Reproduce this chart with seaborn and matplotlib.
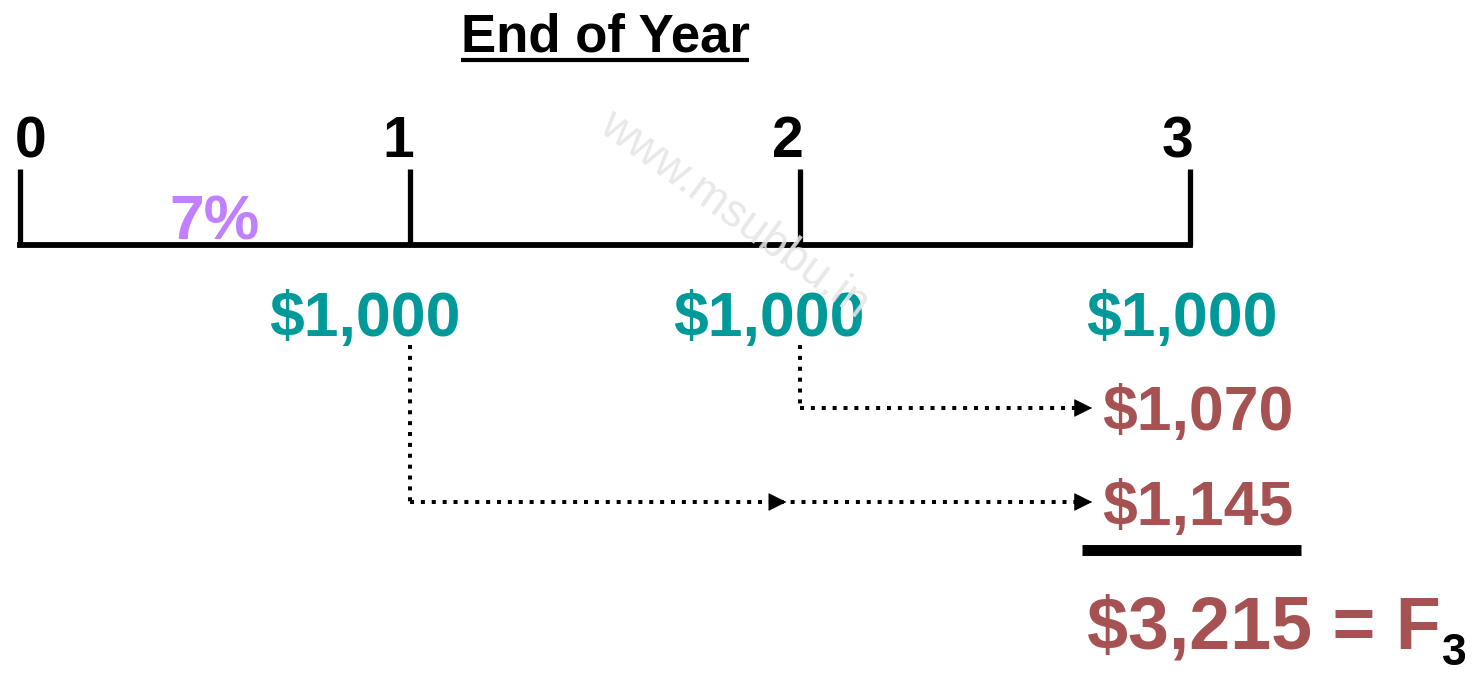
import matplotlib
matplotlib.use("Agg")
import matplotlib.pyplot as plt
import seaborn as sns
import pandas as pd

# ---------------- data ----------------
years = [0, 1, 2, 3]
year_labels = ["0", "1", "2", "3"]
rate_label = "7%"
cash_flow_years = [1, 2, 3]
cash_flow_labels = ["$1,000", "$1,000", "$1,000"]
fv_from_years = [2, 1]
fv_labels = ["$1,070", "$1,145"]
total_label = "$3,215 = F"
total_sub = "3"
title_text = "End of Year"
watermark = "www.msubbu.in"

# ---------------- layout / style ----------------
TEAL = "#009999"
BROWN = "#A65252"
PURPLE = "#C080FF"
year_label_dx = [0.026, -0.03, -0.03, -0.033]
cash_label_dx = [-0.115, -0.08, -0.02]

sns.set_theme(style="white")
plt.rcParams["font.family"] = ["Liberation Sans", "DejaVu Sans"]

fig = plt.figure(figsize=(14.73, 6.75), dpi=100)
ax = fig.add_axes([0, 0, 1, 1])
ax.set_xlim(-20 / 390, 1453 / 390)
ax.set_ylim(675, 0)
ax.axis("off")

# timeline
line_y, tick_top = 245, 169
tl = pd.DataFrame({"year": [years[0], years[-1]], "y": [line_y, line_y]})
sns.lineplot(data=tl, x="year", y="y", color="black", lw=4.2, ax=ax,
             solid_capstyle="projecting")
ax.vlines(years, tick_top, line_y, color="black", lw=3.8)

# year labels
for yr, lab, dx in zip(years, year_labels, year_label_dx):
    ax.text(yr + dx, 157, lab, ha="center", va="baseline", fontsize=41,
            weight="bold", color="black")

# title
title = ax.text((years[0] + years[-1]) / 2, 52, title_text, ha="center",
                va="baseline", fontsize=38, weight="bold", color="black")

# interest rate
ax.text((years[0] + years[1]) / 2, 240, rate_label, ha="center", va="baseline",
        fontsize=45, weight="bold", color=PURPLE)

# cash flows
for yr, lab, dx in zip(cash_flow_years, cash_flow_labels, cash_label_dx):
    ax.text(yr + dx, 336, lab, ha="center", va="baseline", fontsize=45,
            weight="bold", color=TEAL, parse_math=False)

# dotted compounding paths
dot_kw = dict(color="black", lw=2.9, linestyle=(0, (1, 1.7)))
tip_x = years[-1] - 0.251
head = 0.04
fv_rows = [408, 502]
for yr, row in zip(fv_from_years, fv_rows):
    ax.plot([yr, yr], [345, row], **dot_kw)
    ax.plot([yr, tip_x - head], [row, row], **dot_kw)
    ax.annotate("", xy=(tip_x, row), xytext=(tip_x - head, row),
                arrowprops=dict(arrowstyle="-|>", color="black", lw=0.5,
                                mutation_scale=30, shrinkA=0, shrinkB=0))
# mid-way arrow on the two-year path
mid_tip = years[2] - 0.035
ax.annotate("", xy=(mid_tip, fv_rows[1]), xytext=(mid_tip - head, fv_rows[1]),
            arrowprops=dict(arrowstyle="-|>", color="black", lw=0.5,
                            mutation_scale=30, shrinkA=0, shrinkB=0))

# future values
fv_base = [430, 525]
for lab, base in zip(fv_labels, fv_base):
    ax.text(years[-1] - 0.226, base, lab, ha="left", va="baseline",
            fontsize=45, weight="bold", color=BROWN, parse_math=False)

# sum bar
ax.plot([years[-1] - 0.277, years[-1] + 0.285], [550, 550], color="black",
        lw=7.9, solid_capstyle="butt")

# total
tot = ax.text(years[-1] - 0.264, 648, total_label, ha="left", va="baseline",
              fontsize=53, weight="bold", color=BROWN, parse_math=False)

# watermark
ax.text(1.83, 215, watermark, ha="center", va="center", rotation=-36,
        rotation_mode="anchor", fontsize=33, color="#E6E6E6", alpha=0.9,
        zorder=10)

fig.canvas.draw()
inv = ax.transData.inverted()

# subscript after the total
tb = tot.get_window_extent()
sx, _ = inv.transform((tb.x1, tb.y0))
ax.text(sx + 0.003, 665, total_sub, ha="left", va="baseline", fontsize=32,
        weight="bold", color="black")

# underline title
bb = title.get_window_extent()
x0, _ = inv.transform((bb.x0, bb.y0))
x1, _ = inv.transform((bb.x1, bb.y0))
ax.plot([x0, x1], [60, 60], color="black", lw=3, solid_capstyle="butt")

fig.savefig("out.png", dpi=100, facecolor="white")
